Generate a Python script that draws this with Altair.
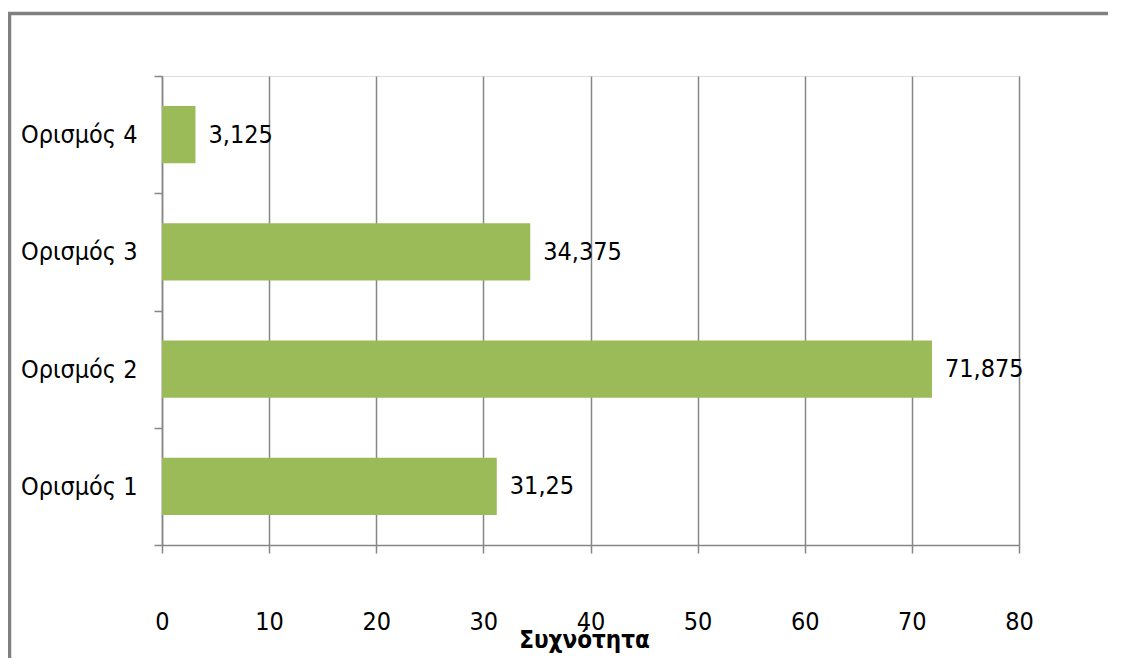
import altair as alt
import pandas as pd

categories = ["Ορισμός 1", "Ορισμός 2", "Ορισμός 3", "Ορισμός 4"]
values = [31.25, 71.875, 34.375, 3.125]
x_ticks = [0, 10, 20, 30, 40, 50, 60, 70, 80]

df = pd.DataFrame({"cat": categories, "value": values})
FONT = "DejaVu Sans Condensed, Roboto Condensed, Liberation Sans Narrow, Liberation Sans"
GRAY = "#868686"

border = alt.Chart(pd.DataFrame({"a": [0]})).mark_rect(
    fill=None, stroke="#808080", strokeWidth=3.5
).encode(
    x=alt.value(-152.5), x2=alt.value(2000),
    y=alt.value(-62.5), y2=alt.value(2000),
)

base = alt.Chart(df)

bars = base.mark_bar(color="#9BBB59", height=alt.RelativeBandSize(0.49)).encode(
    x=alt.X("value:Q",
            scale=alt.Scale(domain=[0, 80], nice=False),
            axis=alt.Axis(values=x_ticks, title="Συχνότητα", grid=True,
                          gridColor=GRAY, gridWidth=1.5,
                          domainColor=GRAY, domainWidth=1.5,
                          tickColor=GRAY, tickWidth=1.5, tickSize=8,
                          labelFont=FONT, labelFontSize=25, labelColor="black",
                          labelPadding=56, labelFlush=False,
                          titleFont=FONT, titleFontSize=24, titleFontWeight="bold",
                          titleColor="black", titleY=102, titleBaseline="alphabetic",
                          titleX=422)),
    y=alt.Y("cat:N", sort="descending",
            scale=alt.Scale(paddingInner=0, paddingOuter=0),
            axis=alt.Axis(title=None, tickBand="extent", grid=False,
                          domainColor=GRAY, domainWidth=1.5,
                          tickColor=GRAY, tickWidth=1.5, tickSize=8,
                          labelFont=FONT, labelFontSize=25, labelColor="black",
                          labelPadding=17)),
)

labels = base.transform_calculate(
    lbl="replace(toString(datum.value), '.', ',')"
).mark_text(align="left", baseline="middle", dx=13, font=FONT, fontSize=25, color="black").encode(
    x="value:Q",
    y=alt.Y("cat:N", sort="descending"),
    text="lbl:N",
)

chart = alt.layer(border, bars, labels).properties(
    width=857, height=469,
    padding={"left": 154, "top": 68, "right": 89, "bottom": 113},
    autosize="none",
).configure_view(stroke=None).configure(background="white")

chart.save("out.html", embed_options={"renderer": "svg", "actions": False})
